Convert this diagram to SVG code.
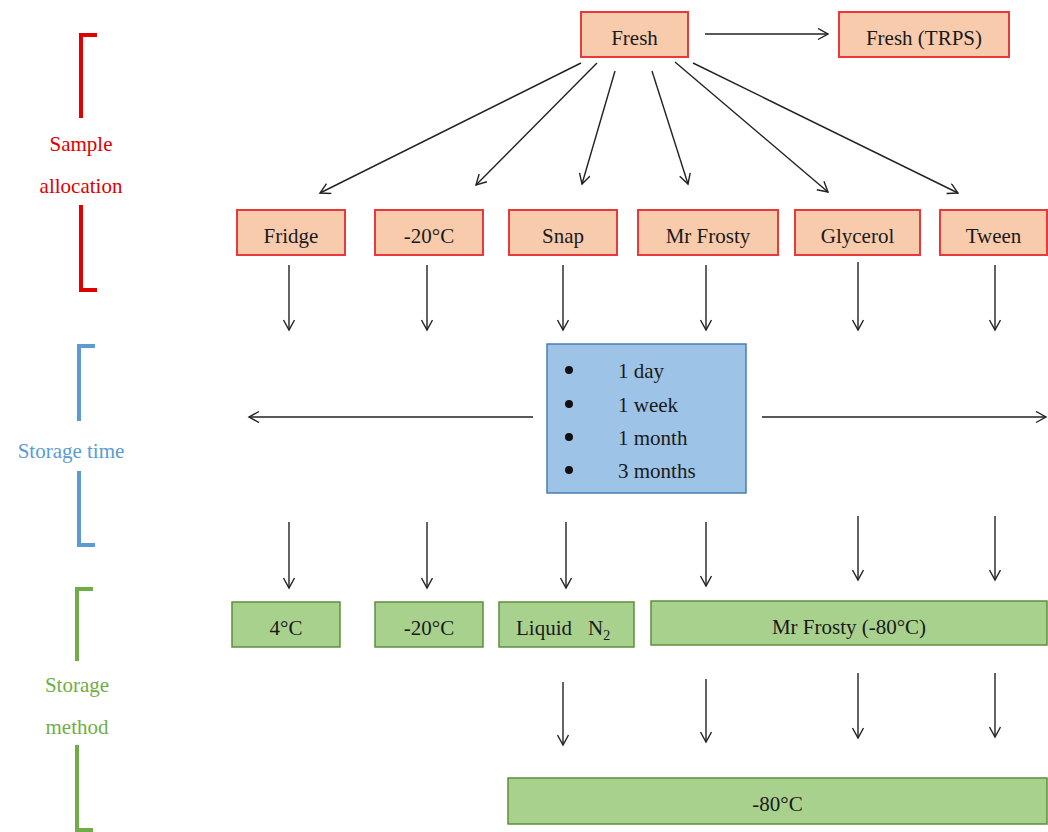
<svg xmlns="http://www.w3.org/2000/svg" width="1048" height="832" viewBox="0 0 1048 832">
<defs>
<marker id="ah" markerUnits="userSpaceOnUse" markerWidth="16" markerHeight="16" refX="11" refY="6" orient="auto">
<path d="M1,0.5 L11,6 L1,11.5" fill="none" stroke="#222" stroke-width="1.4"/>
</marker>
<style>
text{font-family:"Liberation Serif","Times New Roman",serif;font-size:21px;fill:#1a1a1a}
.t{text-anchor:middle}
.red{fill:#F8CBAD;stroke:#E83A3A;stroke-width:2}
.grn{fill:#A9D18E;stroke:#5E8E3E;stroke-width:1.5}
.blu{fill:#9DC3E6;stroke:#4A7DB0;stroke-width:1.5}
.c line{stroke:#222;stroke-width:1.4;marker-end:url(#ah)}
.br{fill:none;stroke-width:4}
</style>
</defs>
<rect width="1048" height="832" fill="#fff"/>

<g id="bracket-allocation">
<path class="br" stroke="#E00000" d="M97,35 H81 V118 M81,205 V290 H97"/>
<text class="t" x="81" y="151" style="fill:#E00000">Sample</text>
<text class="t" x="81" y="193" style="fill:#E00000">allocation</text>
</g>
<g id="bracket-time">
<path class="br" stroke="#5B9BD5" d="M95,346 H79 V421 M79,471 V545 H95"/>
<text class="t" x="71" y="458" style="fill:#5B9BD5">Storage time</text>
</g>
<g id="bracket-method">
<path class="br" stroke="#70AD47" d="M93,589 H77 V661 M77,745 V830 H93"/>
<text class="t" x="77" y="692" style="fill:#70AD47">Storage</text>
<text class="t" x="77" y="734" style="fill:#70AD47">method</text>
</g>

<g id="fresh"><rect class="red" x="581" y="12" width="107" height="45"/><text class="t" x="634.5" y="45">Fresh</text></g>
<g id="fresh-trps"><rect class="red" x="839" y="12" width="170" height="45"/><text class="t" x="924" y="45">Fresh (TRPS)</text></g>

<g id="fridge"><rect class="red" x="237" y="210" width="108" height="45"/><text class="t" x="291" y="243">Fridge</text></g>
<g id="minus20"><rect class="red" x="375" y="210" width="108" height="45"/><text class="t" x="429" y="243">-20°C</text></g>
<g id="snap"><rect class="red" x="509" y="210" width="108" height="45"/><text class="t" x="563" y="243">Snap</text></g>
<g id="mrfrosty"><rect class="red" x="638" y="210" width="140" height="45"/><text class="t" x="708" y="243">Mr Frosty</text></g>
<g id="glycerol"><rect class="red" x="795" y="210" width="125" height="45"/><text class="t" x="857.5" y="243">Glycerol</text></g>
<g id="tween"><rect class="red" x="940" y="210" width="107" height="45"/><text class="t" x="993.5" y="243">Tween</text></g>

<g id="storage-time">
<rect class="blu" x="547" y="344" width="199" height="149"/>
<circle cx="569" cy="370" r="4" fill="#111"/>
<circle cx="569" cy="404" r="4" fill="#111"/>
<circle cx="569" cy="437" r="4" fill="#111"/>
<circle cx="569" cy="470" r="4" fill="#111"/>
<text x="618" y="378">1 day</text>
<text x="618" y="412">1 week</text>
<text x="618" y="445">1 month</text>
<text x="618" y="478">3 months</text>
</g>

<g id="c4"><rect class="grn" x="232" y="602" width="108" height="45"/><text class="t" x="286" y="635">4°C</text></g>
<g id="cm20"><rect class="grn" x="375" y="602" width="108" height="45"/><text class="t" x="429" y="635">-20°C</text></g>
<g id="liquidn2"><rect class="grn" x="499" y="602" width="135" height="45"/><text x="516" y="635">Liquid<tspan x="588">N</tspan><tspan font-size="14" dy="5">2</tspan></text></g>
<g id="mrfrosty80"><rect class="grn" x="651" y="601" width="396" height="44"/><text class="t" x="849" y="634">Mr Frosty (-80°C)</text></g>
<g id="minus80"><rect class="grn" x="508" y="778" width="539" height="46"/><text class="t" x="777.5" y="811">-80°C</text></g>

<g id="connectors" class="c">
<line x1="705" y1="34" x2="828" y2="34"/>
<line x1="581" y1="63" x2="320" y2="193"/>
<line x1="597" y1="63" x2="476" y2="185"/>
<line x1="615" y1="71" x2="582" y2="184"/>
<line x1="652" y1="71" x2="688" y2="184"/>
<line x1="675" y1="62" x2="828" y2="192"/>
<line x1="693" y1="63" x2="958" y2="193"/>

<line x1="289" y1="265" x2="289" y2="330"/>
<line x1="427" y1="265" x2="427" y2="330"/>
<line x1="563" y1="265" x2="563" y2="330"/>
<line x1="706" y1="265" x2="706" y2="330"/>
<line x1="858" y1="262" x2="858" y2="330"/>
<line x1="995" y1="265" x2="995" y2="330"/>

<line x1="533" y1="417" x2="249" y2="417"/>
<line x1="762" y1="417" x2="1046" y2="417"/>

<line x1="289" y1="522" x2="289" y2="588"/>
<line x1="427" y1="522" x2="427" y2="588"/>
<line x1="566" y1="522" x2="566" y2="588"/>
<line x1="706" y1="522" x2="706" y2="586"/>
<line x1="858" y1="516" x2="858" y2="580"/>
<line x1="995" y1="516" x2="995" y2="580"/>

<line x1="563" y1="682" x2="563" y2="745"/>
<line x1="706" y1="679" x2="706" y2="742"/>
<line x1="858" y1="673" x2="858" y2="738"/>
<line x1="995" y1="673" x2="995" y2="737"/>
</g>
</svg>
